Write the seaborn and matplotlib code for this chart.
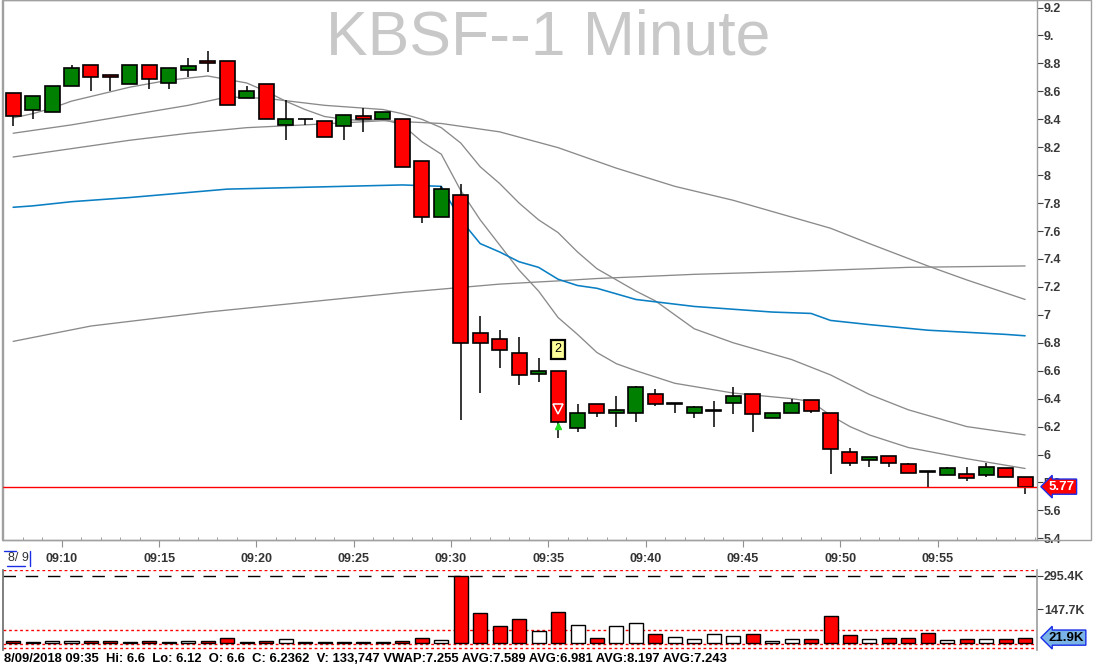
import matplotlib
matplotlib.use("Agg")
import matplotlib.pyplot as plt
import matplotlib.transforms as mtransforms
from matplotlib.patches import Rectangle
from matplotlib.lines import Line2D
import seaborn as sns
import numpy as np
import pandas as pd

# ---------------- data ----------------
times = ["09:%02d" % m for m in range(7, 60)]
opens = [8.59, 8.47, 8.45, 8.64, 8.79, 8.72, 8.65, 8.79, 8.66, 8.75, 8.82, 8.82, 8.55, 8.65,
         8.36, 8.40, 8.39, 8.35, 8.42, 8.40, 8.40, 8.10, 7.70, 7.86, 6.87, 6.83, 6.73, 6.58,
         6.60, 6.19, 6.36, 6.30, 6.30, 6.43, 6.365, 6.30, 6.31, 6.37, 6.43, 6.26, 6.30, 6.39,
         6.30, 6.02, 5.96, 5.99, 5.93, 5.88, 5.85, 5.86, 5.85, 5.90, 5.84]
highs = [8.59, 8.57, 8.64, 8.79, 8.79, 8.72, 8.79, 8.79, 8.77, 8.84, 8.89, 8.82, 8.64, 8.65,
         8.54, 8.40, 8.39, 8.43, 8.48, 8.45, 8.40, 8.10, 7.92, 7.94, 6.99, 6.89, 6.84, 6.69,
         6.60, 6.36, 6.36, 6.42, 6.49, 6.47, 6.37, 6.35, 6.38, 6.48, 6.43, 6.30, 6.40, 6.39,
         6.30, 6.05, 5.98, 5.99, 5.94, 5.88, 5.91, 5.91, 5.94, 5.90, 5.84]
lows = [8.35, 8.40, 8.45, 8.64, 8.60, 8.60, 8.65, 8.62, 8.62, 8.70, 8.74, 8.50, 8.55, 8.40,
        8.25, 8.36, 8.27, 8.25, 8.31, 8.40, 8.06, 7.66, 7.70, 6.25, 6.44, 6.62, 6.50, 6.52,
        6.12, 6.16, 6.27, 6.20, 6.23, 6.35, 6.30, 6.26, 6.20, 6.29, 6.16, 6.26, 6.30, 6.30,
        5.86, 5.92, 5.91, 5.91, 5.87, 5.76, 5.85, 5.81, 5.84, 5.84, 5.72]
closes = [8.42, 8.57, 8.64, 8.77, 8.70, 8.70, 8.79, 8.69, 8.77, 8.78, 8.80, 8.50, 8.60, 8.40,
          8.40, 8.40, 8.27, 8.43, 8.40, 8.45, 8.06, 7.70, 7.90, 6.80, 6.80, 6.75, 6.57, 6.60,
          6.2362, 6.30, 6.30, 6.32, 6.48, 6.36, 6.37, 6.34, 6.32, 6.42, 6.29, 6.30, 6.37, 6.31,
          6.04, 5.94, 5.98, 5.94, 5.87, 5.875, 5.90, 5.83, 5.91, 5.84, 5.77]
volumes_k = [9, 3, 9, 9, 9, 9, 3, 9, 3, 9, 9, 18, 3, 9, 15, 3, 3, 3, 3, 3, 9, 22, 13, 295.4,
             132, 74, 106, 53, 133.747, 78, 21, 74, 87, 37, 25, 16, 38, 29, 38, 9, 16, 16, 118,
             34, 16, 21, 21, 43, 12, 16, 16, 16, 21.9]
avg_volume_k = 57

# moving averages / vwap: bar index -> value
ma_fast_bars = [0, 1, 2, 3, 6, 8, 10, 12, 13, 14, 15, 16, 17, 18, 19, 20, 21, 22, 23, 24, 25, 26,
                27, 28, 29, 30, 31, 32, 34, 37, 40, 41, 42, 43, 44, 46, 49, 52]
ma_fast_vals = [8.41, 8.44, 8.48, 8.53, 8.63, 8.68, 8.71, 8.66, 8.60, 8.53, 8.47, 8.42, 8.40,
                8.39, 8.40, 8.36, 8.24, 8.15, 7.89, 7.68, 7.50, 7.32, 7.17, 6.981, 6.86, 6.73,
                6.65, 6.60, 6.51, 6.44, 6.40, 6.38, 6.28, 6.20, 6.14, 6.05, 5.97, 5.90]
ma_mid_bars = [0, 3, 6, 9, 11, 13, 16, 19, 20, 21, 22, 23, 24, 25, 26, 27, 28, 29, 30, 32, 33,
               35, 37, 39, 40, 42, 44, 46, 49, 52]
ma_mid_vals = [8.30, 8.36, 8.43, 8.50, 8.56, 8.55, 8.50, 8.47, 8.44, 8.40, 8.34, 8.23, 8.06,
               7.94, 7.80, 7.68, 7.589, 7.45, 7.33, 7.17, 7.10, 6.90, 6.80, 6.72, 6.68, 6.57,
               6.43, 6.32, 6.20, 6.14]
ma_slow_bars = [0, 3, 6, 9, 12, 15, 19, 22, 25, 28, 31, 34, 37, 40, 42, 44, 47, 49, 52]
ma_slow_vals = [8.13, 8.19, 8.25, 8.30, 8.34, 8.36, 8.39, 8.37, 8.31, 8.197, 8.05, 7.92, 7.82,
                7.70, 7.62, 7.51, 7.35, 7.25, 7.11]
ma_long_bars = [0, 4, 10, 15, 20, 25, 28, 30, 35, 40, 46, 52]
ma_long_vals = [6.81, 6.92, 7.02, 7.09, 7.16, 7.22, 7.243, 7.26, 7.29, 7.31, 7.34, 7.35]
vwap_bars = [0, 1, 3, 6, 11, 14, 20, 22, 23, 24, 25, 26, 27, 28, 29, 30, 32, 35, 39, 41, 42, 44,
             47, 51, 52]
vwap_vals = [7.77, 7.78, 7.81, 7.84, 7.90, 7.91, 7.93, 7.92, 7.68, 7.51, 7.45, 7.38, 7.34,
             7.255, 7.21, 7.19, 7.11, 7.06, 7.02, 7.01, 6.96, 6.93, 6.89, 6.86, 6.85]

price_ticks = [5.4, 5.6, 5.8, 6.0, 6.2, 6.4, 6.6, 6.8, 7.0, 7.2, 7.4, 7.6, 7.8, 8.0, 8.2, 8.4,
               8.6, 8.8, 9.0, 9.2]
price_tick_labels = ["5.4", "5.6", "5.8", "6", "6.2", "6.4", "6.6", "6.8", "7", "7.2", "7.4",
                     "7.6", "7.8", "8", "8.2", "8.4", "8.6", "8.8", "9.", "9.2"]
time_ticks = ["09:10", "09:15", "09:20", "09:25", "09:30", "09:35", "09:40", "09:45",
              "09:50", "09:55"]
vol_ticks_k = [147.7, 295.4]
vol_tick_labels = ["147.7K", "295.4K"]
title = "KBSF--1 Minute"
date_label = "8/ 9"
status = ("8/09/2018 09:35  Hi: 6.6  Lo: 6.12  O: 6.6  C: 6.2362  V: 133,747 "
          "VWAP:7.255 AVG:7.589 AVG:6.981 AVG:8.197 AVG:7.243")
signal_bar = "09:35"

# ---------------- setup ----------------
sns.set_theme(style="white")
plt.rcParams["font.family"] = ["Liberation Sans", "DejaVu Sans"]

W, H = 1093, 668
fig = plt.figure(figsize=(W / 100, H / 100), dpi=100)
fig.patch.set_facecolor("white")


def fx(px):
    return px / W


def fy(py):
    return 1 - py / H


def tmin(t):
    return int(t[:2]) * 60 + int(t[3:]) - 540  # minutes after 09:00


xs = np.array([tmin(t) + 0.5 for t in times])
x0 = xs[0]
XLIM = (6.98, 60.11)

ax = fig.add_axes([fx(3), fy(540), fx(1037) - fx(3), fy(0) - fy(540)])
axv = fig.add_axes([fx(3), fy(650), fx(1037) - fx(3), fy(570) - fy(650)])

# outer frame of price panel
fig.patches.append(Rectangle((fx(2), fy(540)), fx(1091) - fx(2), fy(0) - fy(540),
                             transform=fig.transFigure, fill=False, ec="#a0a0a0", lw=1.0))

# title behind everything
ax.text(0.527, fy(38), title,
        transform=mtransforms.blended_transform_factory(ax.transAxes, fig.transFigure),
        ha="center", va="center", fontsize=45, color="#c8c8c8", zorder=0)

# moving averages
gray = "#8a8a8a"
for bars, vals in [(ma_long_bars, ma_long_vals), (ma_slow_bars, ma_slow_vals),
                   (ma_mid_bars, ma_mid_vals), (ma_fast_bars, ma_fast_vals)]:
    df = pd.DataFrame({"x": x0 + np.array(bars), "y": vals})
    sns.lineplot(data=df, x="x", y="y", ax=ax, color=gray, lw=0.95, estimator=None,
                 sort=False, zorder=2)
dfv = pd.DataFrame({"x": x0 + np.array(vwap_bars), "y": vwap_vals})
sns.lineplot(data=dfv, x="x", y="y", ax=ax, color="#0a7fc4", lw=1.15, estimator=None,
             sort=False, zorder=2)

# candles
o = np.array(opens); h = np.array(highs); l = np.array(lows); c = np.array(closes)
up = c > o
ax.vlines(xs, l, h, color="black", lw=1.1, zorder=3)
body_col = np.where(up, "#008000", "#ff0000")
ax.bar(xs, np.abs(c - o), bottom=np.minimum(o, c), width=0.77, color=body_col,
       edgecolor="black", linewidth=1.2, zorder=4)

# last price line
ax.axhline(closes[-1], color="#ff0000", lw=1.0, zorder=5)

# signal annotations
si = times.index(signal_bar)
ax.text(xs[si], highs[si] + 0.155, "2", ha="center", va="center", fontsize=9, color="black",
        zorder=7, bbox=dict(boxstyle="square,pad=0.28", fc="#ffff99", ec="black", lw=1.6))
ax.plot(xs[si], closes[si] + 0.09, marker="v", ms=7, mfc="none", mec="white", mew=1.1, zorder=6)
ax.plot(xs[si], closes[si] - 0.035, marker="^", ms=5, color="#22dd22", mec="#22dd22", zorder=6)

ax.set_xlim(*XLIM)
ax.set_ylim(5.388, 9.254)
ax.set_xlabel("")
ax.set_ylabel("")
ax.yaxis.tick_right()
ax.set_yticks(price_ticks)
ax.set_yticklabels(price_tick_labels)
ax.tick_params(axis="y", which="major", direction="out", length=4, width=0.8, color="#404040",
               pad=1, labelsize=9, labelcolor="#3a3a3a", right=True, left=False)
for lbl in ax.get_yticklabels():
    lbl.set_fontweight("bold")
ax.set_xticks([tmin(t) for t in time_ticks])
ax.set_xticklabels(time_ticks)
ax.set_xticks(np.arange(8, 61, 1), minor=True)
ax.tick_params(axis="x", which="major", direction="out", length=5, width=0.8, color="#909090",
               pad=4, labelsize=9, labelcolor="#333333", bottom=True)
ax.tick_params(axis="x", which="minor", direction="in", length=2.5, width=0.6, color="#909090",
               bottom=True)
for lbl in ax.get_xticklabels():
    lbl.set_fontweight("bold")
for sp in ax.spines.values():
    sp.set_color("#a0a0a0")
    sp.set_linewidth(1.0)

# last price label (covers the 5.8 tick label as in the source chart)
ax.text(1.0115, closes[-1], "%.2f" % closes[-1],
        transform=mtransforms.blended_transform_factory(ax.transAxes, ax.transData),
        ha="left", va="center", fontsize=9.5, fontweight="bold", color="white", zorder=8,
        clip_on=False,
        bbox=dict(boxstyle="larrow,pad=0.12", fc="#ff0000", ec="#1a2ee8", lw=1.0))

# ---------------- volume ----------------
vol = np.array(volumes_k)
vcol = np.where(up, "white", "#ff0000")
axv.bar(xs, vol, width=0.72, color=vcol, edgecolor="black", linewidth=1.0, zorder=3)
axv.set_xlim(*XLIM)
axv.set_ylim(-33, 321.5)
axv.axhline(max(volumes_k), color="black", lw=1.0, ls=(0, (9, 7)), zorder=2)
for yv in [319.5, avg_volume_k, -5, -26]:
    axv.axhline(yv, color="#ff0000", lw=1.0, ls=(0, (2, 2)), zorder=2)
axv.set_xticks([])
axv.yaxis.tick_right()
axv.set_yticks(vol_ticks_k)
axv.set_yticklabels(vol_tick_labels)
axv.tick_params(axis="y", direction="out", length=4, width=0.8, color="#404040", pad=1,
                labelsize=9, labelcolor="#3a3a3a", right=True, left=False)
for lbl in axv.get_yticklabels():
    lbl.set_fontweight("bold")
axv.spines["top"].set_visible(False)
axv.spines["bottom"].set_visible(False)
axv.spines["left"].set_color("#707070")
axv.spines["right"].set_color("#a0a0a0")
axv.set_facecolor("white")
axv.text(1.0115, volumes_k[-1], "%.1fK" % volumes_k[-1],
         transform=mtransforms.blended_transform_factory(axv.transAxes, axv.transData),
         ha="left", va="center", fontsize=9.5, fontweight="bold", color="black", zorder=8,
         clip_on=False,
         bbox=dict(boxstyle="larrow,pad=0.12", fc="#7ab4e6", ec="#1a2ee8", lw=1.0))

# ---------------- date label and status bar ----------------
fig.text(fx(8), fy(558), date_label, ha="left", va="center", fontsize=9, color="#333333")
for (xa, ya, xb, yb) in [(3.5, 551, 16, 551), (7, 566, 25, 566), (30, 551, 30, 566)]:
    fig.add_artist(Line2D([fx(xa), fx(xb)], [fy(ya), fy(yb)], color="#1a2ee8", lw=1.0,
                          transform=fig.transFigure))
fig.text(fx(4), fy(659), status, ha="left", va="center", fontsize=9.35, fontweight="bold",
         color="black")

fig.savefig("out.png", dpi=100, facecolor="white")
